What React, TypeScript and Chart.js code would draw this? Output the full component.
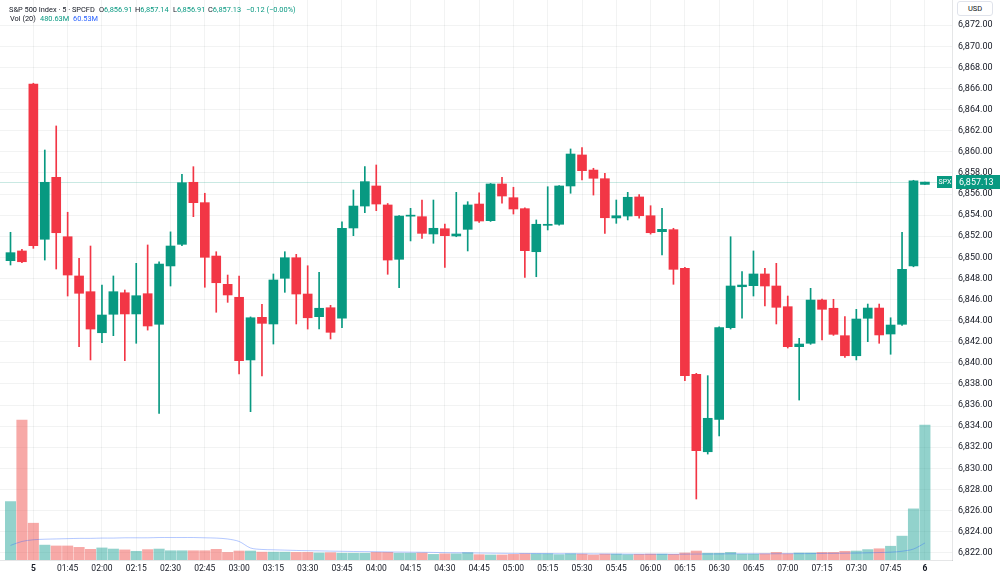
import React, { useEffect, useRef } from "react";
import { Chart, registerables } from "chart.js";

Chart.register(...registerables);

// ---------- data ----------
const times = [
  "01:20", "01:25", "01:30", "01:35", "01:40", "01:45", "01:50", "01:55",
  "02:00", "02:05", "02:10", "02:15", "02:20", "02:25", "02:30", "02:35", "02:40", "02:45", "02:50", "02:55",
  "03:00", "03:05", "03:10", "03:15", "03:20", "03:25", "03:30", "03:35", "03:40", "03:45", "03:50", "03:55",
  "04:00", "04:05", "04:10", "04:15", "04:20", "04:25", "04:30", "04:35", "04:40", "04:45", "04:50", "04:55",
  "05:00", "05:05", "05:10", "05:15", "05:20", "05:25", "05:30", "05:35", "05:40", "05:45", "05:50", "05:55",
  "06:00", "06:05", "06:10", "06:15", "06:20", "06:25", "06:30", "06:35", "06:40", "06:45", "06:50", "06:55",
  "07:00", "07:05", "07:10", "07:15", "07:20", "07:25", "07:30", "07:35", "07:40", "07:45", "07:50", "07:55",
  "08:00",
];

const opens = [
  6849.68, 6850.6, 6866.43, 6851.71, 6857.58, 6851.95, 6848.23, 6846.74, 6842.85, 6844.6,
  6846.64, 6844.63, 6846.55, 6843.65, 6849.18, 6851.23, 6857.11, 6855.18, 6850.12, 6847.44,
  6846.21, 6840.27, 6844.31, 6843.68, 6848.01, 6849.96, 6846.52, 6844.37, 6845.22, 6844.22,
  6852.78, 6854.86, 6856.76, 6854.96, 6849.81, 6853.9, 6853.85, 6852.21, 6852.71, 6852.02,
  6852.65, 6855.05, 6853.47, 6856.95, 6855.65, 6854.61, 6850.53, 6853.03, 6853.13, 6856.76,
  6859.7, 6858.27, 6857.45, 6853.73, 6853.91, 6855.72, 6853.94, 6852.43, 6852.62, 6848.96,
  6838.91, 6831.57, 6834.64, 6843.33, 6847.21, 6847.31, 6848.42, 6847.28, 6845.32, 6841.53,
  6841.85, 6845.95, 6845.17, 6842.57, 6840.67, 6844.22, 6845.19, 6842.73, 6843.65, 6849.18,
  6856.91,
];
const highs = [
  6852.37, 6850.75, 6866.5, 6860.17, 6862.45, 6854.27, 6849.9, 6851.07, 6847.37, 6848.23,
  6846.9, 6849.43, 6851.17, 6849.58, 6852.41, 6857.87, 6858.59, 6856.07, 6850.53, 6848.32,
  6848.23, 6844.35, 6845.55, 6848.42, 6850.53, 6850.28, 6849.2, 6848.58, 6845.45, 6853.37,
  6856.38, 6858.59, 6858.75, 6855.1, 6853.95, 6854.64, 6855.43, 6855.43, 6853.16, 6856.16,
  6855.27, 6856.12, 6857.0, 6857.58, 6856.64, 6854.7, 6853.54, 6856.69, 6856.8, 6860.27,
  6860.39, 6858.44, 6857.96, 6855.43, 6856.16, 6855.95, 6854.89, 6854.64, 6852.75, 6849.05,
  6839.0, 6838.78, 6843.4, 6851.95, 6848.64, 6850.6, 6848.96, 6849.43, 6846.33, 6842.32,
  6847.06, 6846.05, 6846.02, 6844.37, 6845.07, 6845.57, 6845.57, 6844.27, 6852.37, 6857.3,
  6857.14,
];
const lows = [
  6849.27, 6849.5, 6850.85, 6849.74, 6848.89, 6846.33, 6841.53, 6840.27, 6841.9, 6842.57,
  6840.2, 6841.85, 6843.1, 6835.21, 6847.28, 6851.1, 6853.85, 6847.16, 6844.79, 6845.73,
  6838.94, 6835.37, 6838.75, 6841.78, 6846.68, 6843.68, 6843.2, 6843.2, 6842.26, 6843.33,
  6852.05, 6854.23, 6854.42, 6848.39, 6847.12, 6851.55, 6851.8, 6851.33, 6849.05, 6851.95,
  6850.6, 6853.3, 6853.4, 6855.12, 6854.1, 6848.1, 6848.16, 6852.59, 6853.05, 6856.07,
  6857.33, 6855.9, 6852.27, 6853.22, 6853.54, 6853.7, 6852.2, 6850.22, 6847.44, 6838.3,
  6827.09, 6831.35, 6833.06, 6843.2, 6844.22, 6846.33, 6845.38, 6843.68, 6841.4, 6836.47,
  6841.75, 6842.16, 6842.6, 6840.52, 6840.27, 6842.0, 6841.85, 6840.81, 6843.55, 6849.1,
  6856.91,
];
const closes = [
  6850.44, 6849.58, 6851.1, 6857.11, 6852.33, 6848.32, 6846.59, 6843.2, 6844.53, 6846.74,
  6844.63, 6846.36, 6843.49, 6849.36, 6851.07, 6857.07, 6855.18, 6850.0, 6847.59, 6846.43,
  6840.2, 6844.27, 6843.74, 6847.85, 6849.96, 6846.52, 6844.27, 6845.17, 6842.89, 6852.75,
  6854.86, 6857.17, 6855.05, 6849.74, 6853.91, 6853.95, 6852.27, 6852.75, 6852.05, 6852.21,
  6854.96, 6853.44, 6856.95, 6855.81, 6854.58, 6850.63, 6853.13, 6853.13, 6856.76, 6859.79,
  6858.21, 6857.49, 6853.75, 6853.94, 6855.69, 6853.94, 6852.33, 6852.65, 6848.86, 6838.78,
  6831.67, 6834.74, 6843.33, 6847.28, 6847.37, 6848.42, 6847.28, 6845.26, 6841.53, 6841.78,
  6845.95, 6845.07, 6842.7, 6840.67, 6844.15, 6845.19, 6842.64, 6843.58, 6848.86, 6857.25,
  6857.13,
];

// volume in millions
const volumes = [
  208, 498, 131, 53, 50, 50, 45, 38, 43, 39,
  36, 31, 37, 39, 33, 33, 33, 33, 38, 27,
  32, 32, 28, 28, 28, 27, 27, 25, 26, 24,
  24, 24, 27, 27, 24, 24, 25, 20, 22, 22,
  26, 19, 18, 18, 20, 22, 22, 22, 19, 22,
  21, 18, 21, 21, 19, 20, 21, 21, 20, 25,
  32, 24, 24, 27, 21, 21, 22, 27, 22, 25,
  25, 27, 27, 31, 32, 37, 40, 49, 85, 182,
  480.63,
];
// Vol (20) moving average line, millions
const volumeMA = [
  52, 66, 72, 74, 75, 76, 77, 77, 78, 78,
  79, 79, 79, 80, 80, 80, 80, 79, 78, 74.8,
  66, 42.7, 37.5, 36.3, 35.2, 34, 33.1, 32.5, 31.6, 30.9,
  30.3, 29.9, 29.4, 28.8, 28.4, 27.9, 27.5, 26.9, 26.1, 25.8,
  25.5, 24.9, 24.4, 23.9, 23.5, 23.2, 23, 22.8, 22.5, 22.4,
  22.2, 21.9, 21.6, 21.3, 21.1, 20.9, 20.7, 20.7, 20.6, 20.8,
  21.1, 21.3, 21.6, 22.1, 22.1, 22.1, 22.1, 22.3, 22.5, 22.6,
  22.8, 23.3, 23.6, 24.1, 24.7, 25.6, 26.5, 27.9, 31.2, 39,
  60.53,
];

const tickTimes = [
  "01:30", "01:45", "02:00", "02:15", "02:30", "02:45", "03:00", "03:15", "03:30",
  "03:45", "04:00", "04:15", "04:30", "04:45", "05:00", "05:15", "05:30", "05:45",
  "06:00", "06:15", "06:30", "06:45", "07:00", "07:15", "07:30", "07:45", "08:00",
];
const tickLabels = [
  "5", "01:45", "02:00", "02:15", "02:30", "02:45", "03:00", "03:15", "03:30",
  "03:45", "04:00", "04:15", "04:30", "04:45", "05:00", "05:15", "05:30", "05:45",
  "06:00", "06:15", "06:30", "06:45", "07:00", "07:15", "07:30", "07:45", "6",
];
const priceTicks = [
  6822, 6824, 6826, 6828, 6830, 6832, 6834, 6836, 6838, 6840, 6842, 6844, 6846,
  6848, 6850, 6852, 6854, 6856, 6858, 6860, 6862, 6864, 6866, 6868, 6870, 6872,
];

// ---------- style ----------
const UP = "#089981";
const DOWN = "#f23645";
const UP_VOL = "rgba(38,166,154,0.5)";
const DOWN_VOL = "rgba(239,83,80,0.5)";
const MA_COLOR = "rgba(41,98,255,0.35)";
const GRID = "rgba(42,46,57,0.06)";
const TEXT = "#131722";
const FONT = "Roboto, 'Noto Sans', sans-serif";

const fmt = (v: number) =>
  v.toLocaleString("en-US", { minimumFractionDigits: 2, maximumFractionDigits: 2 });

export default function App() {
  const ref = useRef<HTMLCanvasElement>(null);

  useEffect(() => {
    const idx = times.map((_, i) => i);
    const up = idx.map((i) => closes[i] >= opens[i]);
    const last = times.length - 1;
    const tickPos = tickTimes.map((t) => times.indexOf(t));

    const priceLine = {
      id: "priceLine",
      beforeDatasetsDraw(chart: any) {
        const { ctx, chartArea } = chart;
        const y = Math.round(chart.scales.y.getPixelForValue(closes[last])) + 0.5;
        ctx.save();
        ctx.strokeStyle = "rgba(8,153,129,0.22)";
        ctx.lineWidth = 1;
        ctx.beginPath();
        ctx.moveTo(chartArea.left, y);
        ctx.lineTo(chartArea.right, y);
        ctx.stroke();
        ctx.restore();
      },
      afterDraw(chart: any) {
        const { ctx, chartArea } = chart;
        const y = Math.round(chart.scales.y.getPixelForValue(closes[last]));
        ctx.save();
        ctx.fillStyle = UP;
        ctx.fillRect(chartArea.right + 4, y - 7, 1000 - chartArea.right - 4, 14);
        ctx.fillRect(chartArea.right - 15, y - 6, 15, 12);
        ctx.fillStyle = "#ffffff";
        ctx.textBaseline = "middle";
        ctx.textAlign = "left";
        ctx.font = `9px ${FONT}`;
        ctx.fillText(fmt(closes[last]), chartArea.right + 7, y + 0.5);
        ctx.font = `7px ${FONT}`;
        ctx.fillText("SPX", chartArea.right - 13.5, y + 0.5);
        ctx.restore();
      },
    };

    const chart = new Chart(ref.current as HTMLCanvasElement, {
      type: "bar",
      data: {
        datasets: [
          {
            type: "bar",
            data: idx.map((i) => ({ x: i, y: [opens[i], closes[i]] })) as any,
            backgroundColor: idx.map((i) => (up[i] ? UP : DOWN)),
            borderWidth: 0,
            barThickness: 9,
            grouped: false,
            minBarLength: 1,
            xAxisID: "x",
            yAxisID: "y",
          },
          {
            type: "bar",
            data: idx.map((i) => ({ x: i, y: [lows[i], highs[i]] })) as any,
            backgroundColor: idx.map((i) => (up[i] ? UP : DOWN)),
            borderWidth: 0,
            barThickness: 1,
            grouped: false,
            xAxisID: "x",
            yAxisID: "y",
          },
          {
            type: "line",
            data: idx.map((i) => ({ x: i, y: volumeMA[i] })) as any,
            borderColor: MA_COLOR,
            borderWidth: 1,
            pointRadius: 0,
            tension: 0.3,
            xAxisID: "x",
            yAxisID: "yv",
          },
          {
            type: "bar",
            data: idx.map((i) => ({ x: i, y: volumes[i] })) as any,
            backgroundColor: idx.map((i) => (up[i] ? UP_VOL : DOWN_VOL)),
            borderWidth: 0,
            barThickness: 10.4,
            grouped: false,
            xAxisID: "x",
            yAxisID: "yv",
          },
        ],
      },
      options: {
        responsive: false,
        animation: false,
        devicePixelRatio: 1,
        layout: { padding: 0, autoPadding: false },
        plugins: { legend: { display: false }, tooltip: { enabled: false } },
        scales: {
          x: {
            type: "linear",
            position: "bottom",
            offset: false,
            min: -0.9186,
            max: 82.37,
            bounds: "data",
            afterBuildTicks: (s: any) => {
              s.ticks = tickPos.map((v) => ({ value: v }));
            },
            afterFit: (s: any) => {
              s.height = 20;
              s.paddingLeft = 0;
              s.paddingRight = 0;
            },
            grid: { color: GRID, drawTicks: false, offset: false },
            border: { color: "rgba(42,46,57,0.12)" },
            ticks: {
              autoSkip: false,
              maxRotation: 0,
              minRotation: 0,
              padding: 4,
              color: TEXT,
              font: (c: any) => ({
                family: FONT,
                size: 8.5,
                weight: tickLabels[c.index] && tickLabels[c.index].includes(":") ? "normal" : "bold",
              }),
              callback: (_v: any, i: number) => tickLabels[i],
            },
          },
          y: {
            type: "linear",
            position: "right",
            min: 6821.308,
            max: 6874.389,
            bounds: "data",
            afterBuildTicks: (s: any) => {
              s.ticks = priceTicks.map((v) => ({ value: v }));
            },
            afterFit: (s: any) => {
              s.width = 48;
              s.paddingTop = 0;
              s.paddingBottom = 0;
            },
            grid: { color: GRID, drawTicks: false },
            border: { color: "rgba(42,46,57,0.12)" },
            ticks: {
              padding: 6,
              color: TEXT,
              font: { family: FONT, size: 9 },
              callback: (v: any) => fmt(Number(v)),
            },
          },
          yv: {
            type: "linear",
            display: false,
            min: 0,
            max: 1993.7,
            stacked: false,
          },
        },
      } as any,
      plugins: [priceLine],
    });
    return () => chart.destroy();
  }, []);

  const last = times.length - 1;
  const change = closes[last] - closes[last - 1];
  const changePct = (change / closes[last - 1]) * 100;
  const minus = (v: number) => (v < 0 ? "\u2212" : "+") + Math.abs(v).toFixed(2);
  const valColor = closes[last] >= opens[last] ? UP : DOWN;

  const seg = (left: number, top: number, children: React.ReactNode) => (
    <div style={{ position: "absolute", left, top, whiteSpace: "nowrap", lineHeight: "10px" }}>{children}</div>
  );

  return (
    <div
      style={{
        position: "fixed",
        left: 0,
        top: 0,
        width: 1000,
        height: 580,
        background: "#ffffff",
        fontFamily: FONT,
        fontSize: 7.4,
        color: TEXT,
      }}
    >
      <canvas ref={ref} width={1000} height={580} style={{ width: 1000, height: 580, display: "block" }} />
      {seg(9, 5, "S&P 500 Index · 5 · SPCFD")}
      {seg(99, 5, <>O<span style={{ color: valColor }}>{fmt(opens[last])}</span></>)}
      {seg(135, 5, <>H<span style={{ color: valColor }}>{fmt(highs[last])}</span></>)}
      {seg(173, 5, <>L<span style={{ color: valColor }}>{fmt(lows[last])}</span></>)}
      {seg(208, 5, <>C<span style={{ color: valColor }}>{fmt(closes[last])}</span></>)}
      {seg(246, 5, <span style={{ color: valColor }}>{`${minus(change)} (${minus(changePct)}%)`}</span>)}
      {seg(10, 14, "Vol (20)")}
      {seg(40, 14, <span style={{ color: UP }}>{`${volumes[last].toFixed(2)}M`}</span>)}
      {seg(73, 14, <span style={{ color: "#2962ff" }}>{`${volumeMA[last].toFixed(2)}M`}</span>)}
      <div
        style={{
          position: "absolute",
          left: 957,
          top: 1,
          width: 34,
          height: 13,
          border: "1px solid #e0e3eb",
          borderRadius: 3,
          fontSize: 7.5,
          lineHeight: "13px",
          textAlign: "center",
          background: "#fff",
        }}
      >
        USD
      </div>
    </div>
  );
}
